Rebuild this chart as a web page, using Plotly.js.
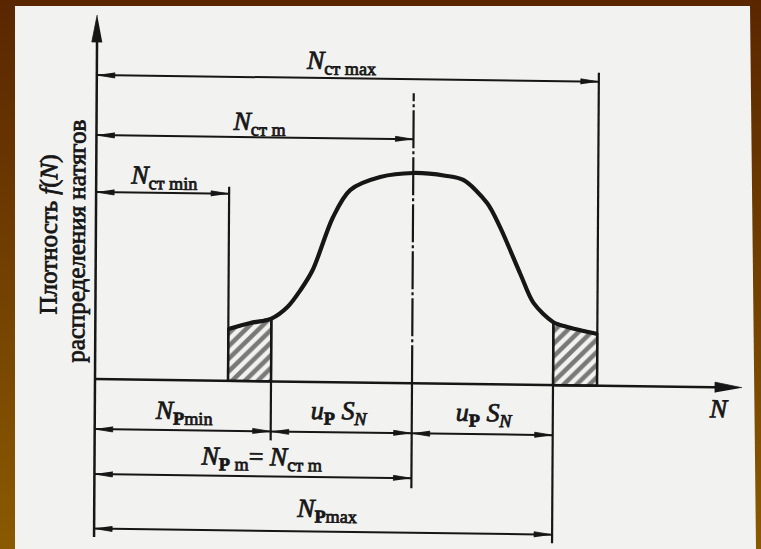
<!DOCTYPE html>
<html>
<head>
<meta charset="utf-8">
<script src="https://cdn.plot.ly/plotly-3.0.1.min.js"></script>
<style>
html,body{margin:0;padding:0;width:761px;height:549px;overflow:hidden;background:linear-gradient(#5a2600,#8a5a00);}
#page{position:absolute;left:0;top:0;width:761px;height:549px;background:#f2f2f0;clip-path:polygon(15px 6px,750px 6px,756px 549px,15px 549px);}
.skew{position:absolute;left:0;top:0;width:761px;height:549px;transform-origin:95px 379px;transform:matrix(1,0.0135,-0.006,1,0,0);}
#chart text.annotation-text{paint-order:stroke;stroke:#1b1b1b;stroke-width:0.8px;}
</style>
</head>
<body>
<div id="page"></div>
<div id="chart" class="skew"></div>
<script>
// ---------- data (drawing units) ----------
// key interference values along the N axis
const keyNames = ['Nст min', 'NP min', 'Nст m = NP m', 'NP max', 'Nст max'];
const keyN     = [13.3, 17.6, 31.7, 45.8, 50.2];

// density curve f(N)
const curveN = [13.3, 15.5, 17.6, 19.2, 20.5, 21.7, 23.7, 25.4, 28.4, 31.7, 34.9, 36.7, 39.1, 40.4, 42.5, 43.8, 45.8, 47.2, 50.2];
const curveF = [5.18, 5.81, 6.28, 7.46, 9.18, 11.19, 16.5, 19.24, 20.58, 21.03, 20.8, 20.4, 18.13, 15.75, 11.0, 8.2, 6.3, 5.84, 5.18];

// levels of the dimension lines (above: standard values, below: probable values)
const dimNames = ['Nст max', 'Nст m', 'Nст min', 'NP min', 'uP SN (1)', 'uP SN (2)', 'NP m', 'NP max'];
const dimLevel = [30.4, 24.4, 18.7, -5.0, -5.0, -5.0, -9.5, -14.95];
const dimFrom  = [0, 0, 0, 0, 17.6, 31.7, 0, 0];
const dimTo    = [50.2, 31.7, 13.3, 17.6, 31.7, 45.8, 31.7, 45.8];

// extension lines at the key values
const extN      = [13.3, 17.6, 45.8, 50.2];
const extTop    = [19.4, 6.3, 6.3, 31.3];
const extBottom = [0, -5.9, -15.8, 0];

// centre line at Nm
const centreN = 31.7, centreTop = 29.0, centreBottom = -10.5;
// axes extents
const axisYTop = 36.4, axisYBottom = -15.8, axisXEnd = 64.7;

// ---------- styles / layout ----------
const SERIF = '"Liberation Serif", "Times New Roman", "DejaVu Serif", serif';
const INK = '#161616';
const DIM_ARROW = {L: 1.8, W: 0.27};
const AXIS_ARROW = {L: 2.7, W: 0.52};

function arrow(tx, ty, dx, dy, s) {
  const nx = -dy, ny = dx;
  return [[tx, ty], [tx - s.L*dx + s.W*nx, ty - s.L*dy + s.W*ny], [tx - s.L*dx - s.W*nx, ty - s.L*dy - s.W*ny]];
}

const dimX = [], dimY = [];
const headX = [], headY = [];
function pushPoly(pts) { pts.forEach(p => { headX.push(p[0]); headY.push(p[1]); }); headX.push(null); headY.push(null); }
for (let i = 0; i < dimLevel.length; i++) {
  dimX.push(dimFrom[i], dimTo[i], null);
  dimY.push(dimLevel[i], dimLevel[i], null);
  pushPoly(arrow(dimFrom[i], dimLevel[i], -1, 0, DIM_ARROW));
  pushPoly(arrow(dimTo[i], dimLevel[i], 1, 0, DIM_ARROW));
}
pushPoly(arrow(0, axisYTop, 0, 1, AXIS_ARROW));
pushPoly(arrow(axisXEnd, 0, 1, 0, AXIS_ARROW));

const extX = [], extY = [];
for (let i = 0; i < extN.length; i++) {
  extX.push(extN[i], extN[i], null);
  extY.push(extBottom[i], extTop[i], null);
}
extX.push(centreN, centreN, null); extY.push(0, centreBottom, null);

function tail(lo, hi) {
  const xs = [lo], ys = [0];
  for (let i = 0; i < curveN.length; i++) if (curveN[i] >= lo && curveN[i] <= hi) { xs.push(curveN[i]); ys.push(curveF[i]); }
  xs.push(hi, lo); ys.push(0, 0);
  return {x: xs, y: ys};
}
const leftTail = tail(keyN[0], keyN[1]);
const rightTail = tail(keyN[3], keyN[4]);
const hatch = {shape: '/', fgcolor: '#000000', bgcolor: 'rgba(0,0,0,0)', size: 9, solidity: 0.5, fillmode: 'overlay'};

const traces = [
  {x: dimX, y: dimY, mode: 'lines', line: {color: INK, width: 2}, hoverinfo: 'skip'},
  {x: extX, y: extY, mode: 'lines', line: {color: INK, width: 2.2}, hoverinfo: 'skip'},
  {x: [centreN, centreN], y: [0, centreTop], mode: 'lines', line: {color: INK, width: 2.2, dash: '38px,3px,3px,3px'}, hoverinfo: 'skip'},
  {x: [0, 0, null, 0, axisXEnd - 1], y: [axisYBottom, axisYTop - 1, null, 0, 0], mode: 'lines', line: {color: INK, width: 2.5}, hoverinfo: 'skip'},
  {x: leftTail.x, y: leftTail.y, mode: 'lines', fill: 'toself', fillcolor: 'rgba(0,0,0,0)', fillpattern: hatch, line: {color: INK, width: 2.4}, hoverinfo: 'skip'},
  {x: rightTail.x, y: rightTail.y, mode: 'lines', fill: 'toself', fillcolor: 'rgba(0,0,0,0)', fillpattern: hatch, line: {color: INK, width: 2.4}, hoverinfo: 'skip'},
  {x: curveN, y: curveF, mode: 'lines', line: {color: INK, width: 4.2, shape: 'spline', smoothing: 0.9}, hoverinfo: 'skip'},
  {x: headX, y: headY, mode: 'lines', fill: 'toself', fillcolor: INK, line: {color: INK, width: 0.8}, hoverinfo: 'skip'}
];

const labels = [
  {t: '<i>N</i><sub>ст max</sub>', x: 24.4, y: 32.05},
  {t: '<i>N</i><sub>ст m</sub>', x: 16.2, y: 25.84},
  {t: '<i>N</i><sub>ст min</sub>', x: 6.7, y: 20.32},
  {t: '<i>N</i><sub><b>P</b>min</sub>', x: 8.9, y: -3.16},
  {t: '<i>u</i><sub><b>P</b></sub> <i>S</i><sub><i>N</i></sub>', x: 24.4, y: -2.95},
  {t: '<i>u</i><sub><b>P</b></sub> <i>S</i><sub><i>N</i></sub>', x: 38.9, y: -2.95},
  {t: '<i>N</i><sub><b>P</b> m</sub>= <i>N</i><sub>ст m</sub>', x: 16.6, y: -7.65},
  {t: '<i>N</i><sub><b>P</b>max</sub>', x: 23.2, y: -12.77},
  {t: '<i>N</i>', x: 62.4, y: -2.1}
];
const annotations = labels.map(l => ({
  x: l.x, y: l.y, xref: 'x', yref: 'y', text: l.t, showarrow: false,
  xanchor: 'center', yanchor: 'middle', font: {family: SERIF, size: 26, color: INK}
}));
annotations.push(
  {x: -4.7, y: 14.4, xref: 'x', yref: 'y', text: 'Плотность <i>f</i>(<i>N</i>)', textangle: -90, showarrow: false,
   xanchor: 'center', yanchor: 'middle', font: {family: SERIF, size: 25, color: INK}},
  {x: -2.0, y: 13.7, xref: 'x', yref: 'y', text: 'распределения натягов', textangle: -90, showarrow: false,
   xanchor: 'center', yanchor: 'middle', font: {family: SERIF, size: 25, color: INK}}
);

const layout = {
  width: 761, height: 549,
  margin: {l: 0, r: 0, t: 0, b: 0, pad: 0},
  paper_bgcolor: 'rgba(0,0,0,0)', plot_bgcolor: 'rgba(0,0,0,0)',
  showlegend: false,
  xaxis: {range: [-9.5, 66.6], visible: false, fixedrange: true},
  yaxis: {range: [-17, 37.9], visible: false, fixedrange: true},
  annotations: annotations
};
Plotly.newPlot('chart', traces, layout, {staticPlot: true, displayModeBar: false});
</script>
</body>
</html>
